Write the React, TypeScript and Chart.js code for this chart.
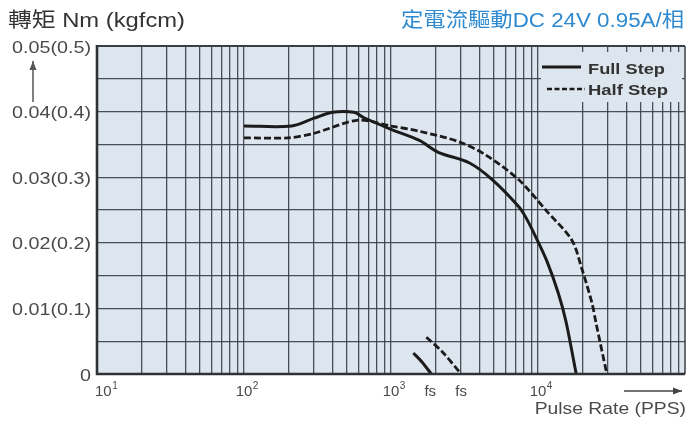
import React, { useEffect, useRef } from 'react';
import { Chart, registerables } from 'chart.js';

Chart.register(...registerables);

// ---- data (pulse rate in PPS, torque in N·m) ----
const fullStepPps = [100, 210, 300, 400, 560, 650, 1000, 1560, 2100, 3400, 4900, 7400, 8300, 9700, 11500, 13800, 15500, 18200];
const fullStepTorque = [0.0378, 0.0378, 0.039, 0.0399, 0.0399, 0.0391, 0.0373, 0.0356, 0.0338, 0.0322, 0.0296, 0.0255, 0.0238, 0.0208, 0.0172, 0.0122, 0.008, 0];
const halfStepPps = [100, 200, 300, 600, 1000, 1560, 2900, 4400, 7400, 11500, 17000, 19900, 23300, 24800, 29400];
const halfStepTorque = [0.036, 0.036, 0.0367, 0.0387, 0.0378, 0.037, 0.0354, 0.0334, 0.0296, 0.0248, 0.0204, 0.016, 0.0108, 0.0078, 0];
const fullFsPps = [1420, 1630, 1880];
const fullFsTorque = [0.0032, 0.0018, 0];
const halfFsPps = [1740, 2230, 3000];
const halfFsTorque = [0.0056, 0.0034, 0];

const seriesNames = ['Full Step', 'Half Step'];

// axis labels
const xLabelValues = [10, 100, 1000, 1850, 3000, 10000];
const xLabelBases = ['10', '10', '10', 'fs', 'fs', '10'];
const xLabelExps = ['1', '2', '3', '', '', '4'];
const xDecades = [10, 100, 1000, 10000];
const xMultipliers = [1, 2, 3, 4, 5, 6, 7, 8, 9];
const yGridValues = [0, 0.005, 0.01, 0.015, 0.02, 0.025, 0.03, 0.035, 0.04, 0.045, 0.05];
const yLabelValues = [0, 0.01, 0.02, 0.03, 0.04, 0.05];
const yLabelTexts = ['0', '0.01(0.1)', '0.02(0.2)', '0.03(0.3)', '0.04(0.4)', '0.05(0.5)'];
const titleLeft = '轉矩 Nm (kgfcm)';
const titleRight = '定電流驅動DC 24V 0.95A/相';
const xAxisTitle = 'Pulse Rate (PPS)';

const FONT = '"Liberation Sans", Arial, "Noto Sans CJK TC", sans-serif';
const BG = '#dde6ee';
const GRID = 'rgba(55,62,72,0.9)';
const LINE = '#1b1b1b';

function drawText(
  ctx: CanvasRenderingContext2D, text: string, x: number, y: number, font: string, color: string,
  align: 'left' | 'right' | 'center', sx = 1, baseline: CanvasTextBaseline = 'alphabetic'
) {
  ctx.save();
  ctx.font = font;
  ctx.fillStyle = color;
  ctx.textBaseline = baseline;
  ctx.textAlign = 'left';
  const w = ctx.measureText(text).width * sx;
  const left = align === 'left' ? x : align === 'right' ? x - w : x - w / 2;
  ctx.translate(left, y);
  ctx.scale(sx, 1);
  ctx.fillText(text, 0, 0);
  ctx.restore();
  return w;
}

function fitText(ctx: CanvasRenderingContext2D, text: string, left: number, y: number, font: string, color: string, width: number) {
  ctx.save();
  ctx.font = font;
  const m = ctx.measureText(text).width;
  ctx.restore();
  drawText(ctx, text, left, y, font, color, 'left', width / m);
}

function arrow(ctx: CanvasRenderingContext2D, x1: number, y1: number, x2: number, y2: number, color: string) {
  ctx.save();
  ctx.strokeStyle = color;
  ctx.fillStyle = color;
  ctx.lineWidth = 1.5;
  ctx.beginPath();
  ctx.moveTo(x1, y1);
  ctx.lineTo(x2, y2);
  ctx.stroke();
  const ang = Math.atan2(y2 - y1, x2 - x1);
  const L = 9, W = 3.5;
  ctx.beginPath();
  ctx.moveTo(x2, y2);
  ctx.lineTo(x2 - L * Math.cos(ang) + W * Math.sin(ang), y2 - L * Math.sin(ang) - W * Math.cos(ang));
  ctx.lineTo(x2 - L * Math.cos(ang) - W * Math.sin(ang), y2 - L * Math.sin(ang) + W * Math.cos(ang));
  ctx.closePath();
  ctx.fill();
  ctx.restore();
}

const decorPlugin = {
  id: 'decor',
  beforeDraw(chart: any) {
    const { ctx, chartArea: a } = chart;
    ctx.save();
    ctx.fillStyle = '#ffffff';
    ctx.fillRect(0, 0, chart.width, chart.height);
    ctx.fillStyle = BG;
    ctx.fillRect(a.left, a.top, a.right - a.left, a.bottom - a.top);
    ctx.restore();
  },
  beforeDatasetsDraw(chart: any) {
    const { ctx } = chart;
    // legend panel hides grid
    ctx.save();
    ctx.fillStyle = BG;
    ctx.fillRect(541, 52, 141, 50);
    ctx.restore();
  },
  afterDraw(chart: any) {
    const { ctx, chartArea: a } = chart;
    const xs = chart.scales.x;
    const ys = chart.scales.y;
    // border
    ctx.save();
    ctx.strokeStyle = '#3a3f44';
    ctx.lineWidth = 2;
    ctx.beginPath();
    ctx.moveTo(a.left, a.top);
    ctx.lineTo(a.right, a.top);
    ctx.stroke();
    ctx.lineWidth = 1.5;
    ctx.beginPath();
    ctx.moveTo(a.right, a.top);
    ctx.lineTo(a.right, a.bottom);
    ctx.stroke();
    ctx.strokeStyle = '#2e3236';
    ctx.lineWidth = 2.6;
    ctx.beginPath();
    ctx.moveTo(a.left, a.top - 1);
    ctx.lineTo(a.left, a.bottom);
    ctx.lineTo(a.right, a.bottom);
    ctx.stroke();
    ctx.restore();

    // y labels
    yLabelValues.forEach((v, i) => {
      const py = ys.getPixelForValue(v);
      drawText(ctx, yLabelTexts[i], a.left - 6, py + 2, `17px ${FONT}`, '#4a4a4a', 'right', 1.16, 'middle');
    });
    // x labels
    xLabelValues.forEach((v, i) => {
      const px = xs.getPixelForValue(v);
      const base = xLabelBases[i];
      const exp = xLabelExps[i];
      ctx.save();
      ctx.font = `15px ${FONT}`;
      const bw = ctx.measureText(base).width;
      ctx.restore();
      let left = px - bw / 2;
      if (left < a.left - 2) left = a.left - 2;
      drawText(ctx, base, left, 396, `15px ${FONT}`, '#4a4a4a', 'left');
      if (exp) drawText(ctx, exp, left + bw + 0.5, 389, `10px ${FONT}`, '#4a4a4a', 'left');
    });
    // axis title and arrows
    drawText(ctx, xAxisTitle, 686, 414, `16.5px ${FONT}`, '#4a4a4a', 'right', 1.17);
    arrow(ctx, 624, 391, 682, 391, '#444');
    arrow(ctx, 33, 102, 33, 61, '#555');

    // legend
    ctx.save();
    ctx.strokeStyle = LINE;
    ctx.lineWidth = 3;
    ctx.beginPath();
    ctx.moveTo(542, 67);
    ctx.lineTo(581, 67);
    ctx.stroke();
    ctx.lineWidth = 2.6;
    ctx.setLineDash([5, 2.5]);
    ctx.beginPath();
    ctx.moveTo(547, 89);
    ctx.lineTo(585, 89);
    ctx.stroke();
    ctx.restore();
    fitText(ctx, seriesNames[0], 588, 74, `bold 15px ${FONT}`, '#333333', 77);
    fitText(ctx, seriesNames[1], 588, 95, `bold 15px ${FONT}`, '#333333', 80);

    // titles
    fitText(ctx, titleLeft, 8, 27, `20px ${FONT}`, '#333333', 177);
    fitText(ctx, titleRight, 401, 27, `20px ${FONT}`, '#2f8ad0', 283);
  },
};

function pts(xs: number[], ys: number[]) {
  return xs.map((x, i) => ({ x, y: ys[i] }));
}

export default function App() {
  const ref = useRef<HTMLCanvasElement | null>(null);
  useEffect(() => {
    if (!ref.current) return;
    const solid = { borderColor: LINE, borderWidth: 3, pointRadius: 0, tension: 0.3, fill: false };
    const dashed = { ...solid, borderWidth: 2.8, borderDash: [7, 3] };
    const chart = new Chart(ref.current, {
      type: 'line',
      data: {
        datasets: [
          { label: seriesNames[0], data: pts(fullStepPps, fullStepTorque), ...solid },
          { label: seriesNames[1], data: pts(halfStepPps, halfStepTorque), ...dashed },
          { label: 'fs1', data: pts(fullFsPps, fullFsTorque), ...solid },
          { label: 'fs2', data: pts(halfFsPps, halfFsTorque), ...dashed },
        ],
      },
      options: {
        animation: false,
        responsive: false,
        layout: { padding: { top: 46, right: 4, left: 0, bottom: 0 } },
        plugins: { legend: { display: false }, tooltip: { enabled: false } },
        scales: {
          x: {
            type: 'logarithmic',
            min: 10,
            max: 100000,
            ticks: { display: false },
            grid: { color: GRID, lineWidth: 1.3, drawTicks: false },
            border: { display: false },
            afterBuildTicks: (s: any) => {
              const t: { value: number }[] = [];
              xDecades.forEach((d) => xMultipliers.forEach((m) => t.push({ value: d * m })));
              s.ticks = t;
            },
            afterFit: (s: any) => { s.height = 48; },
          },
          y: {
            type: 'linear',
            min: 0,
            max: 0.05,
            ticks: { display: false },
            grid: { color: GRID, lineWidth: 1.3, drawTicks: false },
            border: { display: false },
            afterBuildTicks: (s: any) => { s.ticks = yGridValues.map((v) => ({ value: v })); },
            afterFit: (s: any) => { s.width = 97; },
          },
        },
      },
      plugins: [decorPlugin],
    });
    return () => chart.destroy();
  }, []);
  return (
    <div style={{ position: 'absolute', left: 0, top: 0, width: 689, height: 422, background: '#fff' }}>
      <canvas ref={ref} width={689} height={422} />
    </div>
  );
}
